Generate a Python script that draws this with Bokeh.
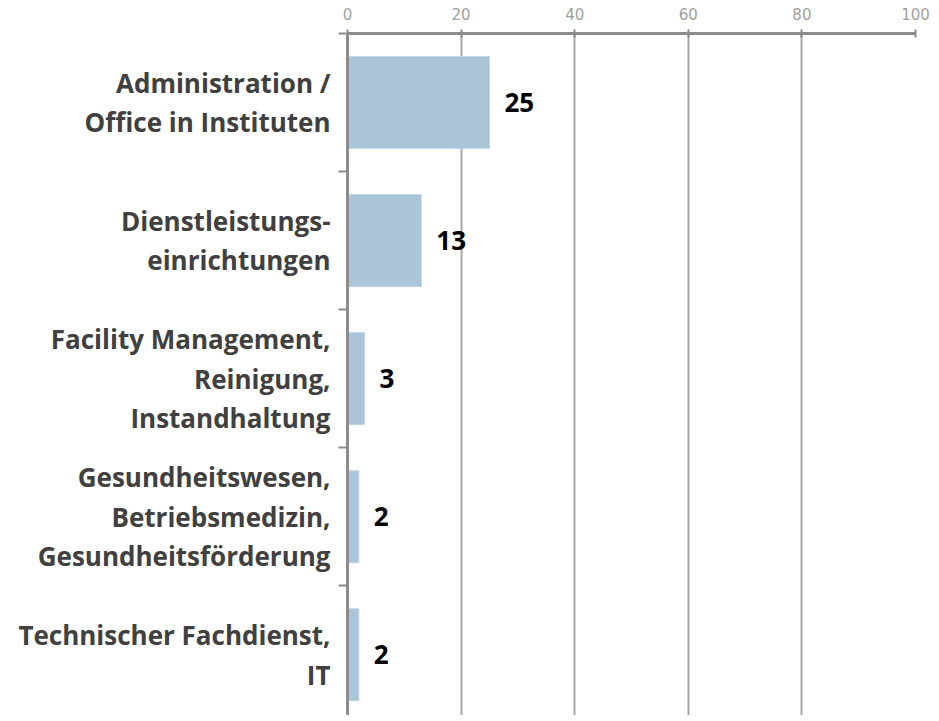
from bokeh.plotting import figure
from bokeh.models import ColumnDataSource, Range1d, FixedTicker, LabelSet
from bokeh.core.properties import value
from bokeh.embed import file_html
from bokeh.resources import INLINE

categories = [
    "Administration /\nOffice in Instituten",
    "Dienstleistungs-\neinrichtungen",
    "Facility Management,\nReinigung,\nInstandhaltung",
    "Gesundheitswesen,\nBetriebsmedizin,\nGesundheitsförderung",
    "Technischer Fachdienst,\nIT",
]
values = [25, 13, 3, 2, 2]
x_ticks = [0, 20, 40, 60, 80, 100]

pos = [i + 0.5 for i in range(len(categories))]
bounds = [i for i in range(len(categories) + 1)]
src = ColumnDataSource(dict(y=pos, v=values,
                            vt=[str(v) for v in values], zero=[0] * len(values)))

p = figure(width=933, height=715, output_backend="svg", toolbar_location=None,
           x_range=Range1d(0, 100), y_range=Range1d(4.94, 0),
           x_axis_location="above", y_axis_location="left",
           min_border_left=347, min_border_right=18, min_border_top=33, min_border_bottom=0)
p.outline_line_color = None
p.background_fill_color = "white"

p.hbar(y="y", left="zero", right="v", height=0.667, source=src,
       fill_color="#aac4d8", line_color="#c5d7e6", line_width=1)

# x axis (top)
xa = p.xaxis[0]
xa.ticker = FixedTicker(ticks=x_ticks)
xa.axis_line_color = "#8c8c8c"
xa.axis_line_width = 3
xa.major_tick_line_color = "#8c8c8c"
xa.major_tick_line_width = 2
xa.major_tick_in = 4
xa.major_tick_out = 4
xa.minor_tick_line_color = None
xa.major_label_text_font = "DejaVu Sans"
xa.major_label_text_font_size = "15px"
xa.major_label_text_color = "#a0a0a0"
xa.major_label_standoff = 10

# y axis (left): category labels at centers, tick marks at boundaries
ya = p.yaxis[0]
ya.ticker = FixedTicker(ticks=pos, minor_ticks=bounds)
ya.major_label_overrides = {p_: c for p_, c in zip(pos, categories)}
ya.major_label_text_font = "Open Sans"
ya.major_label_text_font_style = "bold"
ya.major_label_text_font_size = "26px"
ya.major_label_text_color = "#404040"
ya.major_label_text_line_height = 1.1
ya.major_label_standoff = 8
ya.major_tick_line_color = None
ya.major_tick_in = 0
ya.major_tick_out = 0
ya.axis_line_color = "#8c8c8c"
ya.axis_line_width = 3
ya.minor_tick_line_color = "#8c8c8c"
ya.minor_tick_line_width = 2
ya.minor_tick_in = 0
ya.minor_tick_out = 9

p.xgrid.ticker = FixedTicker(ticks=x_ticks)
p.xgrid.grid_line_color = "#a6a6a6"
p.xgrid.grid_line_width = 2
p.ygrid.grid_line_color = None

val_labels = LabelSet(x="v", y="y", text="vt", source=src, x_offset=15,
                      text_align="left", text_baseline="middle",
                      text_font=value("Open Sans"), text_font_style="bold", text_font_size="26px",
                      text_color="#000000")
p.add_layout(val_labels)

open("out.html", "w").write(file_html(p, INLINE))
